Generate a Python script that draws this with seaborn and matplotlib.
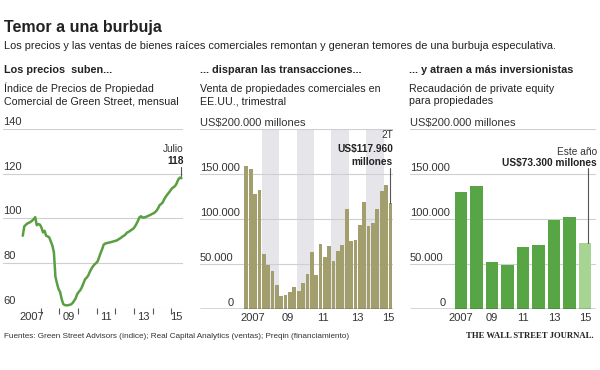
import matplotlib
matplotlib.use('Agg')
import matplotlib.pyplot as plt
import seaborn as sns
import pandas as pd

# datos leidos del grafico
# indice de precios Green Street, mensual, ene 2007 - jul 2015
indice_precios = [
    92.3, 96.5, 97.2, 97.8, 98.1, 98.5, 99.0, 99.7, 100.6, 97.0, 97.5, 97.3,
    96.0, 93.8, 94.5, 92.3, 92.0, 91.6, 89.8, 88.0, 85.0, 74.0, 71.0, 68.5,
    67.2, 64.0, 61.8, 61.3, 61.2, 61.2, 61.4, 61.6, 62.2, 63.2, 64.3, 66.2,
    67.2, 68.0, 69.3, 71.0, 72.8, 73.5, 74.4, 76.0, 77.4, 78.5, 79.4, 80.0,
    80.7, 82.5, 84.5, 86.2, 88.3, 88.8, 89.0, 89.2, 89.3, 89.5, 89.7, 89.9,
    90.1, 90.4, 90.9, 91.3, 91.9, 92.3, 92.8, 93.7, 94.0, 94.5, 95.0, 95.4,
    96.3, 97.5, 98.9, 100.5, 101.0, 100.4, 100.5, 100.6, 101.0, 101.3, 101.6, 102.0,
    102.3, 102.8, 103.5, 104.6, 106.0, 106.5, 107.2, 108.7, 109.8, 110.8, 111.6, 112.6,
    113.5, 114.0, 114.6, 115.8, 117.5, 118.3, 118.0,
]

# ventas de propiedades comerciales, trimestral, millones de US$ (2007T1 - 2015T2)
ventas_trimestrales = [
    158500, 156000, 128000, 132700, 61000, 48800, 42300, 26400,
    14800, 15500, 18500, 24000, 20500, 28600, 38600, 62800,
    37700, 72000, 58000, 70000, 53800, 64000, 71000, 111500,
    76000, 76800, 93000, 119000, 92300, 96000, 111500, 131200,
    137300, 117960,
]
trimestres = [f'{2007 + i // 4}T{i % 4 + 1}' for i in range(len(ventas_trimestrales))]

# recaudacion de private equity para propiedades, anual, millones de US$
pe_anios = ['2007', '2008', '2009', '2010', '2011', '2012', '2013', '2014', '2015']
pe_recaudacion = [130300, 136900, 52600, 48500, 68600, 71200, 99300, 102600, 73300]

etiquetas_anios = ['2007', '09', '11', '13', '15']

sns.set_theme(style='white')
plt.rcParams['font.family'] = ['Liberation Sans Narrow', 'Liberation Sans', 'DejaVu Sans']

VERDE_LINEA = '#5a9e42'
OLIVA = '#a39e6d'
BANDA = '#e6e6ea'
VERDE = '#58a545'
VERDE_CLARO = '#a6d493'
GRIS_GRID = '#cfcfcf'
TEXTO = '#222222'
FS = 8.0

fig = plt.figure(figsize=(6, 3.7), dpi=100)


def px_axes(x0, y_top, x1, y_bot):
    return fig.add_axes([x0 / 600, 1 - y_bot / 370, (x1 - x0) / 600, (y_bot - y_top) / 370])


def ftext(x, y, s, **kw):
    kw.setdefault('color', TEXTO)
    kw.setdefault('va', 'baseline')
    fig.text(x / 600, 1 - y / 370, s, **kw)


def miles(v):
    return f'{v:,}'.replace(',', '.')


'''
Encabezados
'''
ftext(4, 32, 'Temor a una burbuja', fontsize=11.5, fontweight='bold',
      family=['Liberation Sans', 'DejaVu Sans'])
ftext(4, 49, 'Los precios y las ventas de bienes raíces comerciales remontan y generan '
             'temores de una burbuja especulativa.', fontsize=7.95)

cols = [4, 200, 409]
ftext(cols[0], 73, 'Los precios  suben...', fontsize=7.8, fontweight='bold')
ftext(cols[1], 73, '... disparan las transacciones...', fontsize=7.8, fontweight='bold')
ftext(cols[2], 73, '... y atraen a más inversionistas', fontsize=7.8, fontweight='bold')
ftext(cols[0], 92.5, 'Índice de Precios de Propiedad', fontsize=7.7)
ftext(cols[0], 104.5, 'Comercial de Green Street, mensual', fontsize=7.7)
ftext(cols[1], 92.5, 'Venta de propiedades comerciales en', fontsize=7.7)
ftext(cols[1], 104.5, 'EE.UU., trimestral', fontsize=7.7)
ftext(cols[2], 92.5, 'Recaudación de private equity', fontsize=7.7)
ftext(cols[2], 104.5, 'para propiedades', fontsize=7.7)

'''
Panel 1: indice de precios (linea)
'''
ax1 = px_axes(3, 129, 183, 308)
for v in [60, 80, 100, 120, 140]:
    ax1.axhline(v, color=GRIS_GRID, lw=0.8, zorder=0)
    ax1.text(0, v + 1, str(v), transform=ax1.get_yaxis_transform(), fontsize=FS,
             color='#333333', va='bottom', ha='left')
df_precios = pd.DataFrame({'mes': range(len(indice_precios)), 'indice': indice_precios})
sns.lineplot(data=df_precios, x='mes', y='indice', color=VERDE_LINEA, lw=1.8, ax=ax1)
ax1.set_xlim(-12.7, 103)
ax1.set_ylim(60, 140)
ax1.set_xticks([5.5, 29.5, 53.5, 77.5, 99], etiquetas_anios)
ax1.set_xticks([11.5 + 12 * k for k in range(8)], minor=True)
ax1.tick_params(axis='x', which='major', length=0, pad=3, labelsize=FS, labelcolor='#333333')
ax1.tick_params(axis='x', which='minor', bottom=True, length=4, width=0.8, color='#555555',
                direction='out')
ax1.set_yticks([])
ax1.set_xlabel('')
ax1.set_ylabel('')
sns.despine(ax=ax1, left=True, bottom=True)

ult = len(indice_precios) - 1
ax1.plot([ult, ult], [indice_precios[ult] + 1.2, indice_precios[ult] + 5], color='#555555', lw=0.8)
ax1.text(103.3, 131.0, 'Julio', fontsize=7.3, ha='right', va='center', color='#333333')
ax1.text(103.3, 125.6, str(round(indice_precios[ult])), fontsize=7.3, ha='right', va='center',
         fontweight='bold', color=TEXTO)

'''
Panel 2: ventas trimestrales (barras)
'''
ax2 = px_axes(200, 129, 393, 309)
df_ventas = pd.DataFrame({'trimestre': trimestres, 'ventas': ventas_trimestrales})
sns.barplot(data=df_ventas, x='trimestre', y='ventas', color=OLIVA, saturation=1,
            width=0.86, linewidth=0, ax=ax2, zorder=3)
for anio in (2008, 2010, 2012, 2014):
    i0 = (anio - 2007) * 4 - 0.5
    ax2.axvspan(i0, i0 + 4, color=BANDA, lw=0, zorder=0)
for v in [50000, 100000, 150000, 200000]:
    ax2.axhline(v, color=GRIS_GRID, lw=0.8, zorder=1)
ax2.axhline(0, color='#333333', lw=1.0, zorder=4)
for v in [50000, 100000, 150000]:
    ax2.text(0, v + 1500, miles(v), transform=ax2.get_yaxis_transform(), fontsize=FS,
             color='#333333', va='bottom', ha='left')
ax2.text(0.175, 1500, '0', transform=ax2.get_yaxis_transform(), fontsize=FS,
         color='#333333', va='bottom', ha='right')
ax2.text(0, 201500, 'US$200.000 millones', transform=ax2.get_yaxis_transform(), fontsize=FS,
         color='#333333', va='bottom', ha='left')
ax2.set_xlim(-10.6, 33.6)
ax2.set_ylim(0, 200000)
ax2.set_xticks([1.5, 9.5, 17.5, 25.5, 32.5], etiquetas_anios)
ax2.tick_params(axis='x', length=0, pad=3, labelsize=FS, labelcolor='#333333')
ax2.set_yticks([])
ax2.set_xlabel('')
ax2.set_ylabel('')
sns.despine(ax=ax2, left=True, bottom=True)

n = len(ventas_trimestrales) - 1
ax2.plot([n - 0.1, n - 0.1], [ventas_trimestrales[n], 156500], color='#555555', lw=0.8, zorder=5)
ax2.text(33.6, 193300, '2T', fontsize=7.3, ha='right', va='center', color='#333333')
ax2.text(33.6, 177800, 'US$' + miles(ventas_trimestrales[n]), fontsize=7.3, ha='right',
         va='center', fontweight='bold', color=TEXTO)
ax2.text(33.6, 163300, 'millones', fontsize=7.3, ha='right', va='center', fontweight='bold',
         color=TEXTO)

'''
Panel 3: private equity anual (barras)
'''
ax3 = px_axes(410, 129, 596, 309)
colores = [VERDE] * (len(pe_anios) - 1) + [VERDE_CLARO]
sns.barplot(x=pe_anios, y=pe_recaudacion, hue=pe_anios, palette=colores, legend=False,
            saturation=1, width=0.8, linewidth=0, ax=ax3, zorder=3)
for v in [50000, 100000, 150000, 200000]:
    ax3.axhline(v, color=GRIS_GRID, lw=0.8, zorder=1)
ax3.axhline(0, color='#333333', lw=1.0, zorder=4)
for v in [50000, 100000, 150000]:
    ax3.text(0, v + 1500, miles(v), transform=ax3.get_yaxis_transform(), fontsize=FS,
             color='#333333', va='bottom', ha='left')
ax3.text(0.19, 1500, '0', transform=ax3.get_yaxis_transform(), fontsize=FS,
         color='#333333', va='bottom', ha='right')
ax3.text(0, 201500, 'US$200.000 millones', transform=ax3.get_yaxis_transform(), fontsize=FS,
         color='#333333', va='bottom', ha='left')
ax3.set_xlim(-3.3, 8.7)
ax3.set_ylim(0, 200000)
ax3.set_xticks([0, 2, 4, 6, 8], etiquetas_anios)
ax3.tick_params(axis='x', length=0, pad=3, labelsize=FS, labelcolor='#333333')
ax3.set_yticks([])
ax3.set_xlabel('')
ax3.set_ylabel('')
sns.despine(ax=ax3, left=True, bottom=True)

k = len(pe_recaudacion) - 1
ax3.plot([k + 0.2, k + 0.2], [pe_recaudacion[k], 156500], color='#555555', lw=0.8, zorder=5)
ax3.text(8.75, 174400, 'Este año', fontsize=7.3, ha='right', va='center', color='#333333')
ax3.text(8.75, 162200, 'US$' + miles(pe_recaudacion[k]) + ' millones', fontsize=7.3, ha='right',
         va='center', fontweight='bold', color=TEXTO)

'''
Pie
'''
ftext(4, 338, 'Fuentes: Green Street Advisors (índice); Real Capital Analytics (ventas); '
              'Preqin (financiamiento)', fontsize=5.9, color='#333333')
ftext(594, 338, 'THE WALL STREET JOURNAL.', fontsize=6.2, ha='right', fontweight='bold',
      family=['Liberation Serif', 'DejaVu Serif'])

fig.savefig('out.png', dpi=100)
